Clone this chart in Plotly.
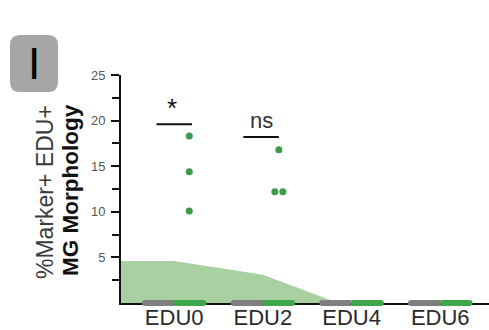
import plotly.graph_objects as go

# ---------------- data ----------------
categories = ["EDU0", "EDU2", "EDU4", "EDU6"]
edu0_values = [18.3, 14.4, 10.1]
edu2_values = [16.8, 12.2, 12.2]
area_x = [-0.6, 0, 1, 1.85]
area_values = [4.6, 4.6, 3.1, 0.0]
sig_labels = ["*", "ns"]
sig_heights = [19.6, 18.2]
y_ticks = [5, 10, 15, 20, 25]
y_minor = [2.5, 7.5, 12.5, 17.5, 22.5]

# ---------------- style ----------------
DOT = "#3c9a48"
AREA = "#a9d0a1"
GRAY_BAR = "#7f7f7f"
GREEN_BAR = "#3ea64b"
FONT = "Liberation Sans, Arial, sans-serif"

cat_pos = list(range(len(categories)))
fig = go.Figure()

# background area
fig.add_trace(go.Scatter(x=area_x, y=area_values, mode="lines", fill="tozeroy",
                         fillcolor=AREA, line=dict(width=0, color=AREA),
                         hoverinfo="skip", showlegend=False))

# dots
dot_off0 = [0.17, 0.17, 0.17]
dot_off2 = [0.18, 0.135, 0.225]
fig.add_trace(go.Scatter(x=[cat_pos[0] + o for o in dot_off0], y=edu0_values, mode="markers",
                         marker=dict(color=DOT, size=7), showlegend=False))
fig.add_trace(go.Scatter(x=[cat_pos[1] + o for o in dot_off2], y=edu2_values, mode="markers",
                         marker=dict(color=DOT, size=7), showlegend=False))

# significance lines
sig_centers = [0.0, 0.98]
for c, h, lab in zip(sig_centers, sig_heights, sig_labels):
    fig.add_trace(go.Scatter(x=[c - 0.2, c + 0.2], y=[h, h], mode="lines",
                             line=dict(color="#111111", width=2), showlegend=False))
    if lab == "*":
        fig.add_annotation(x=c - 0.02, y=h - 0.1, text=lab, showarrow=False,
                           yanchor="bottom", font=dict(family=FONT, size=26, color="#111111"))
    else:
        fig.add_annotation(x=c, y=h + 0.2, text=lab, showarrow=False,
                           yanchor="bottom", font=dict(family=FONT, size=22, color="#333333"))

# gray/green bars at the base of each category
shapes = []
for c in cat_pos:
    g0, g1, r1 = c - 0.33, c + 0.0, c + 0.33
    shapes.append(dict(type="line", xref="x", yref="paper", x0=g0, x1=g1, y0=0, y1=0,
                       line=dict(color=GRAY_BAR, width=6), layer="above"))
    shapes.append(dict(type="line", xref="x", yref="paper", x0=g1, x1=r1, y0=0, y1=0,
                       line=dict(color=GREEN_BAR, width=6), layer="above"))
    shapes.append(dict(type="circle", xref="x", yref="paper", xsizemode="pixel", ysizemode="pixel",
                       xanchor=g0, yanchor=0, x0=-3, x1=3, y0=-3, y1=3,
                       fillcolor=GRAY_BAR, line=dict(width=0), layer="above"))
    shapes.append(dict(type="circle", xref="x", yref="paper", xsizemode="pixel", ysizemode="pixel",
                       xanchor=r1, yanchor=0, x0=-3, x1=3, y0=-3, y1=3,
                       fillcolor=GREEN_BAR, line=dict(width=0), layer="above"))

# panel label box
bx0, bx1 = (10 - 121) / 368, (58 - 121) / 368
by0, by1 = (303 - 92) / 228, (303 - 35) / 228
rx, ry = 10 / 368, 10 / 228
path = (f"M {bx0+rx},{by1} L {bx1-rx},{by1} Q {bx1},{by1} {bx1},{by1-ry} "
        f"L {bx1},{by0+ry} Q {bx1},{by0} {bx1-rx},{by0} L {bx0+rx},{by0} "
        f"Q {bx0},{by0} {bx0},{by0+ry} L {bx0},{by1-ry} Q {bx0},{by1} {bx0+rx},{by1} Z")
shapes.append(dict(type="path", xref="paper", yref="paper", path=path,
                   fillcolor="#a6a6a6", line=dict(width=0)))
fig.add_annotation(xref="paper", yref="paper", x=(bx0 + bx1) / 2, y=(by0 + by1) / 2,
                   text="I", showarrow=False, xanchor="center", yanchor="middle",
                   font=dict(family=FONT, size=44, color="#000000"))

# y title
fig.add_annotation(xref="paper", yref="paper", x=(45 - 121) / 368, y=(303 - 192) / 228,
                   text="%Marker+ EDU+", textangle=-90, showarrow=False,
                   xanchor="center", yanchor="middle",
                   font=dict(family=FONT, size=23, color="#3a3a3a"))
fig.add_annotation(xref="paper", yref="paper", x=(70 - 121) / 368, y=(303 - 190) / 228,
                   text="<b>MG Morphology</b>", textangle=-90, showarrow=False,
                   xanchor="center", yanchor="middle",
                   font=dict(family=FONT, size=22.5, color="#111111"))

fig.update_layout(
    width=489, height=330,
    margin=dict(l=121, r=0, t=75, b=27),
    paper_bgcolor="white", plot_bgcolor="white",
    shapes=shapes,
    showlegend=False,
    xaxis=dict(range=[-0.6, 3.55], tickvals=cat_pos, ticktext=categories,
               automargin=False,
               showgrid=False, zeroline=False, showline=True, linecolor="#111111",
               linewidth=2, ticks="", ticklabelstandoff=-6,
               tickfont=dict(family=FONT, size=22, color="#2a2a2a")),
    yaxis=dict(range=[0, 25], tickvals=y_ticks, showgrid=False, zeroline=False,
               automargin=False,
               showline=True, linecolor="#111111", linewidth=2,
               ticks="outside", ticklen=8, tickwidth=2, tickcolor="#111111",
               ticklabelstandoff=3,
               minor=dict(tickvals=y_minor, ticks="outside", ticklen=7, tickwidth=2,
                          tickcolor="#111111"),
               tickfont=dict(family=FONT, size=13, color="#555555")),
)

fig.write_html("out.html", config={"displayModeBar": False},
               post_script="document.body.style.margin='0';")
